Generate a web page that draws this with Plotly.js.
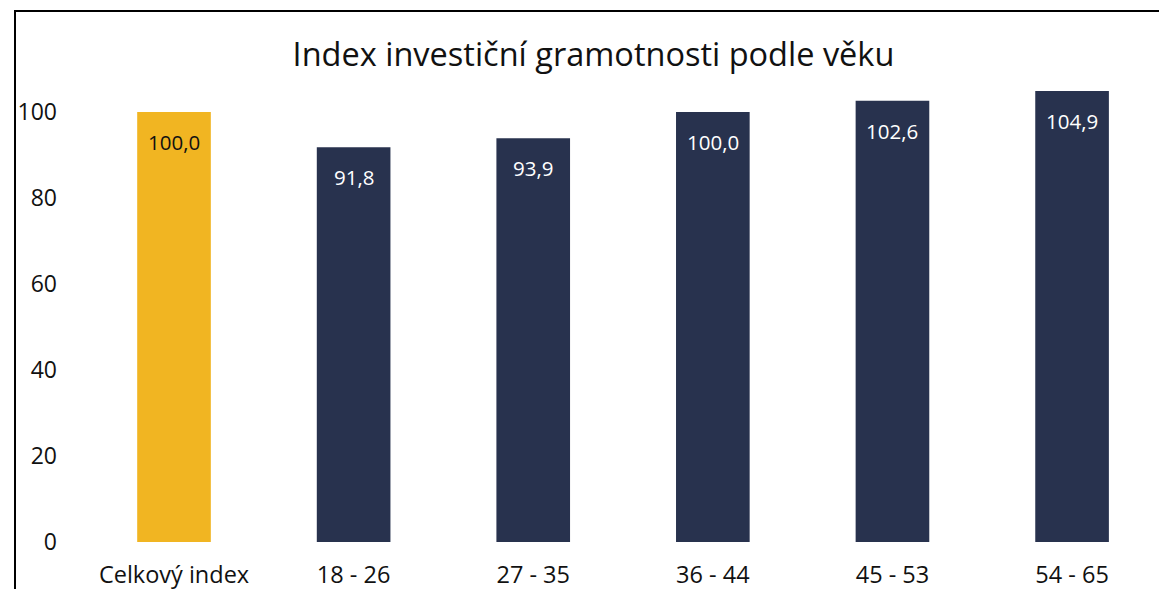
<!DOCTYPE html>
<html>
<head>
<meta charset="utf-8">
<script src="https://cdn.plot.ly/plotly-3.0.1.min.js"></script>
<style>
  html, body { margin: 0; padding: 0; background: #fff; }
  #wrap { position: relative; width: 1159px; height: 589px; overflow: hidden; }
  #chart { position: absolute; left: 0; top: 0; width: 1159px; height: 589px; }
  #frame { position: absolute; left: 14px; top: 10px; width: 1200px; height: 700px;
           border-left: 2px solid #000; border-top: 2px solid #000; pointer-events: none; }
</style>
</head>
<body>
<div id="wrap">
  <div id="chart"></div>
  <div id="frame"></div>
</div>
<script>
const categories = ["Celkový index", "18 - 26", "27 - 35", "36 - 44", "45 - 53", "54 - 65"];
const values = [100.0, 91.8, 93.9, 100.0, 102.6, 104.9];
const labels = ["100,0", "91,8", "93,9", "100,0", "102,6", "104,9"];
const barColors = ["#F1B522", "#28324E", "#28324E", "#28324E", "#28324E", "#28324E"];
const labelColors = ["#111111", "#FFFFFF", "#FFFFFF", "#FFFFFF", "#FFFFFF", "#FFFFFF"];
const yTicks = [0, 20, 40, 60, 80, 100];

const trace = {
  type: "bar",
  x: categories,
  y: values,
  width: 0.41,
  marker: { color: barColors },
  hoverinfo: "none"
};

const annotations = categories.map((c, i) => ({
  x: c, y: values[i], xref: "x", yref: "y",
  text: labels[i], showarrow: false,
  yshift: -30, yanchor: "middle",
  font: { family: "Open Sans, sans-serif", size: 20.5, color: labelColors[i] }
}));

const layout = {
  width: 1159, height: 589,
  margin: { l: 62, r: 0, t: 26, b: 47 },
  paper_bgcolor: "#ffffff",
  plot_bgcolor: "#ffffff",
  showlegend: false,
  title: {
    text: "Index investiční gramotnosti podle věku",
    font: { family: "Open Sans, sans-serif", size: 32.5, color: "#111111" },
    x: 0.4845, xanchor: "center", xref: "paper",
    y: 0.907, yanchor: "middle", yref: "container"
  },
  xaxis: {
    type: "category",
    range: [-0.6236, 5.484],
    showgrid: false, zeroline: false, showline: false,
    ticks: "",
    ticklabelstandoff: 16,
    tickfont: { family: "Open Sans, sans-serif", size: 23.5, color: "#111111" },
    fixedrange: true
  },
  yaxis: {
    range: [0, 120],
    tickvals: yTicks,
    ticktext: yTicks.map(String),
    showgrid: false, zeroline: false, showline: false,
    ticks: "",
    ticklabelstandoff: 4,
    tickfont: { family: "Open Sans, sans-serif", size: 23, color: "#111111" },
    fixedrange: true
  },
  annotations: annotations
};

Plotly.newPlot("chart", [trace], layout, { displayModeBar: false, staticPlot: true });
</script>
</body>
</html>
